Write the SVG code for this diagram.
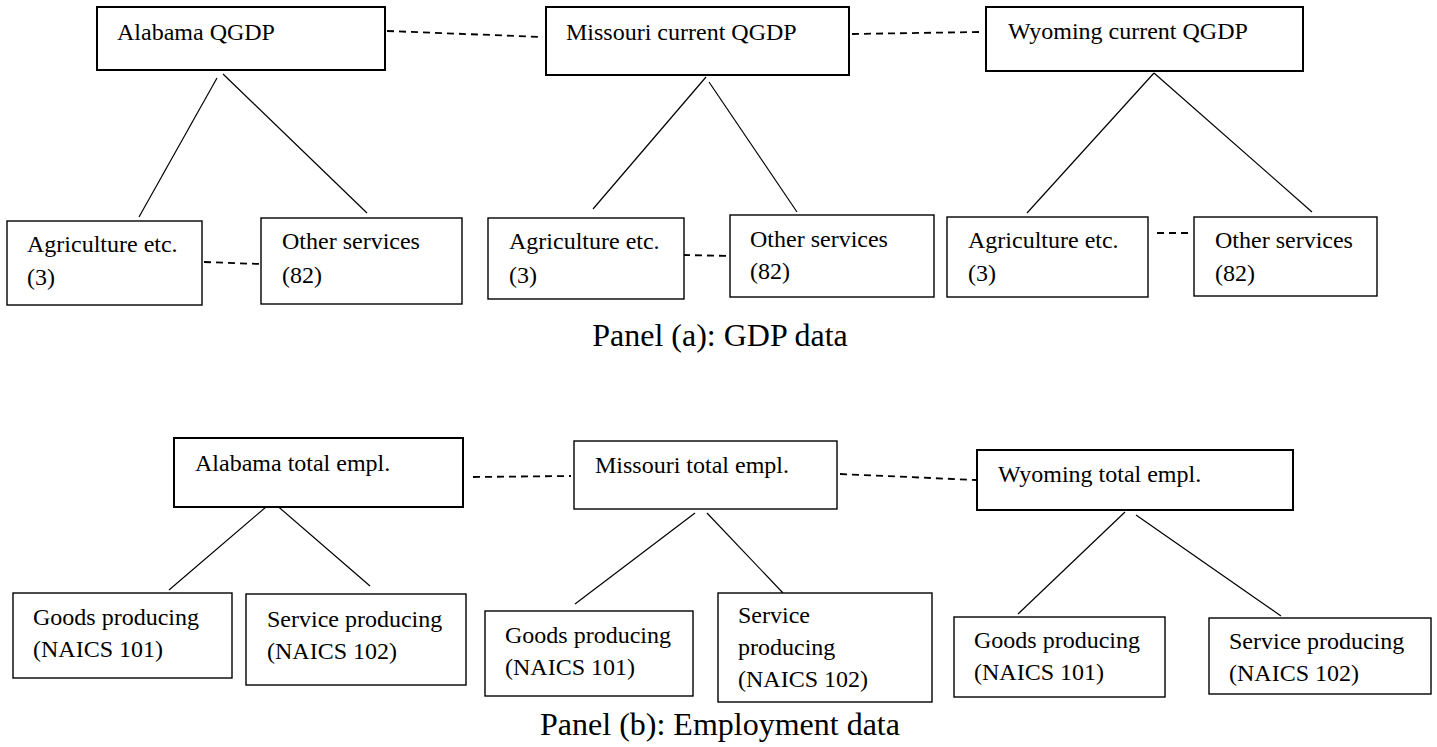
<svg xmlns="http://www.w3.org/2000/svg" width="1437" height="747" viewBox="0 0 1437 747">
<style>
.top{fill:#fff;stroke:#000;stroke-width:2}
.leaf{fill:#fff;stroke:#000;stroke-width:1.4}
.t{font-family:"Liberation Serif","Times New Roman",serif;font-size:24px;fill:#000}
.cap{font-family:"Liberation Serif","Times New Roman",serif;font-size:32px;fill:#000;text-anchor:middle}
.solid{stroke:#000;stroke-width:1.2;fill:none}
.dash{stroke:#000;stroke-width:1.8;fill:none;stroke-dasharray:7 5}
</style>
<rect width="1437" height="747" fill="#fff"/>
<g id="connectors">
<line class="dash" x1="387" y1="31" x2="543" y2="37"/>
<line class="dash" x1="852" y1="34" x2="980" y2="32"/>
<line class="solid" x1="217" y1="78" x2="139" y2="217"/>
<line class="solid" x1="223" y1="74" x2="367" y2="213"/>
<line class="solid" x1="706" y1="77" x2="593" y2="209"/>
<line class="solid" x1="709" y1="82" x2="797" y2="212"/>
<line class="solid" x1="1154" y1="73" x2="1027" y2="213"/>
<line class="solid" x1="1154" y1="73" x2="1312" y2="212"/>
<line class="dash" x1="204" y1="262" x2="260" y2="264"/>
<line class="dash" x1="683" y1="255" x2="730" y2="256"/>
<line class="dash" x1="1157" y1="233" x2="1193" y2="233"/>
<line class="dash" x1="473" y1="477" x2="571" y2="476"/>
<line class="dash" x1="840" y1="474" x2="976" y2="480"/>
<line class="solid" x1="266" y1="507" x2="169" y2="590"/>
<line class="solid" x1="274" y1="503" x2="370" y2="586"/>
<line class="solid" x1="695" y1="513" x2="575" y2="604"/>
<line class="solid" x1="707" y1="513" x2="783" y2="593"/>
<line class="solid" x1="1125" y1="512" x2="1018" y2="614"/>
<line class="solid" x1="1136" y1="515" x2="1281" y2="616"/>
</g>
<g id="alabama-qgdp"><rect class="top" x="97" y="7" width="288" height="63"/><text class="t" x="117" y="40">Alabama QGDP</text></g>
<g id="missouri-qgdp"><rect class="top" x="546" y="7" width="303" height="68"/><text class="t" x="566" y="40">Missouri current QGDP</text></g>
<g id="wyoming-qgdp"><rect class="top" x="986" y="7" width="317" height="64"/><text class="t" x="1008" y="39">Wyoming current QGDP</text></g>
<g id="al-agri"><rect class="leaf" x="7" y="221" width="195" height="84"/><text class="t" x="27" y="252">Agriculture etc.</text><text class="t" x="27" y="285">(3)</text></g>
<g id="al-other"><rect class="leaf" x="261" y="218" width="201" height="86"/><text class="t" x="282" y="249">Other services</text><text class="t" x="282" y="283">(82)</text></g>
<g id="mo-agri"><rect class="leaf" x="488" y="218" width="196" height="81"/><text class="t" x="509" y="249">Agriculture etc.</text><text class="t" x="509" y="283">(3)</text></g>
<g id="mo-other"><rect class="leaf" x="730" y="215" width="204" height="82"/><text class="t" x="750" y="247">Other services</text><text class="t" x="750" y="279">(82)</text></g>
<g id="wy-agri"><rect class="leaf" x="947" y="217" width="201" height="80"/><text class="t" x="968" y="248">Agriculture etc.</text><text class="t" x="968" y="281">(3)</text></g>
<g id="wy-other"><rect class="leaf" x="1194" y="217" width="183" height="79"/><text class="t" x="1215" y="248">Other services</text><text class="t" x="1215" y="281">(82)</text></g>
<g id="caption-a"><text class="cap" x="720" y="346">Panel (a): GDP data</text></g>
<g id="alabama-empl"><rect class="top" x="174" y="438" width="289" height="69"/><text class="t" x="195" y="471">Alabama total empl.</text></g>
<g id="missouri-empl"><rect class="leaf" x="574" y="441" width="263" height="68"/><text class="t" x="595" y="473">Missouri total empl.</text></g>
<g id="wyoming-empl"><rect class="top" x="977" y="450" width="316" height="60"/><text class="t" x="998" y="482">Wyoming total empl.</text></g>
<g id="al-goods"><rect class="leaf" x="13" y="593" width="219" height="85"/><text class="t" x="33" y="625">Goods producing</text><text class="t" x="33" y="657">(NAICS 101)</text></g>
<g id="al-service"><rect class="leaf" x="246" y="594" width="220" height="91"/><text class="t" x="267" y="627">Service producing</text><text class="t" x="267" y="659">(NAICS 102)</text></g>
<g id="mo-goods"><rect class="leaf" x="485" y="611" width="208" height="85"/><text class="t" x="505" y="643">Goods producing</text><text class="t" x="505" y="675">(NAICS 101)</text></g>
<g id="mo-service"><rect class="leaf" x="718" y="593" width="214" height="109"/><text class="t" x="738" y="623">Service</text><text class="t" x="738" y="655">producing</text><text class="t" x="738" y="687">(NAICS 102)</text></g>
<g id="wy-goods"><rect class="leaf" x="954" y="617" width="211" height="80"/><text class="t" x="974" y="648">Goods producing</text><text class="t" x="974" y="680">(NAICS 101)</text></g>
<g id="wy-service"><rect class="leaf" x="1209" y="618" width="222" height="76"/><text class="t" x="1229" y="649">Service producing</text><text class="t" x="1229" y="681">(NAICS 102)</text></g>
<g id="caption-b"><text class="cap" x="720" y="735">Panel (b): Employment data</text></g>
</svg>
